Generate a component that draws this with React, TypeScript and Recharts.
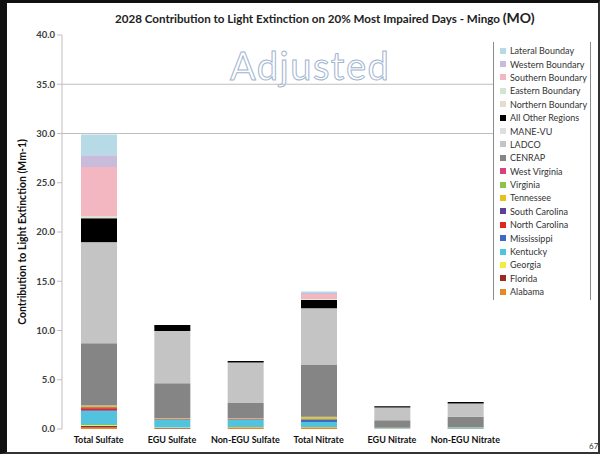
import { BarChart, Bar, XAxis, YAxis, Legend, ReferenceLine } from 'recharts';

const categories = ['Total Sulfate', 'EGU Sulfate', 'Non-EGU Sulfate', 'Total Nitrate', 'EGU Nitrate', 'Non-EGU Nitrate'];

// contributions (Mm-1), one value per category
const alabama = [0.15, 0.05, 0.1, 0.1, 0.02, 0.03];
const florida = [0.15, 0.05, 0.05, 0.05, 0.01, 0.02];
const georgia = [0.1, 0.05, 0.05, 0.05, 0.01, 0.01];
const kentucky = [1.4, 0.8, 0.75, 0.5, 0.05, 0.1];
const mississippi = [0.1, 0.02, 0.05, 0.3, 0.02, 0.02];
const northCarolina = [0.2, 0.03, 0.05, 0, 0, 0];
const southCarolina = [0.1, 0.02, 0, 0, 0, 0];
const tennessee = [0.15, 0.08, 0.05, 0.2, 0.02, 0.02];
const virginia = [0.03, 0, 0, 0.03, 0, 0];
const westVirginia = [0.02, 0, 0, 0.02, 0, 0];
const cenrap = [6.3, 3.55, 1.55, 5.25, 0.75, 1.05];
const ladco = [10.2, 5.3, 4.1, 5.75, 1.3, 1.35];
const maneVu = [0.05, 0, 0, 0, 0, 0];
const allOther = [2.45, 0.6, 0.15, 0.85, 0.12, 0.15];
const northern = [0.1, 0, 0, 0.05, 0, 0];
const eastern = [0.1, 0, 0, 0.05, 0, 0];
const southern = [5.0, 0, 0, 0.5, 0, 0];
const western = [1.2, 0, 0, 0.1, 0, 0];
const lateral = [2.1, 0, 0, 0.15, 0, 0];

const yTicks = [0, 5, 10, 15, 20, 25, 30, 35, 40];

// stacking order, bottom to top
const series = [
  { key: 'Alabama', values: alabama, color: '#e3892a' },
  { key: 'Florida', values: florida, color: '#9b2b1c' },
  { key: 'Georgia', values: georgia, color: '#f2ee3c' },
  { key: 'Kentucky', values: kentucky, color: '#52c3de' },
  { key: 'Mississippi', values: mississippi, color: '#3d6bc2' },
  { key: 'North Carolina', values: northCarolina, color: '#e0261e' },
  { key: 'South Carolina', values: southCarolina, color: '#5b3f98' },
  { key: 'Tennessee', values: tennessee, color: '#e9be22' },
  { key: 'Virginia', values: virginia, color: '#8cc24d' },
  { key: 'West Virginia', values: westVirginia, color: '#d8407e' },
  { key: 'CENRAP', values: cenrap, color: '#858585' },
  { key: 'LADCO', values: ladco, color: '#c4c4c4' },
  { key: 'MANE-VU', values: maneVu, color: '#dedede' },
  { key: 'All Other Regions', values: allOther, color: '#000000' },
  { key: 'Northern Boundary', values: northern, color: '#e6dccb' },
  { key: 'Eastern Boundary', values: eastern, color: '#cfe6cf' },
  { key: 'Southern Boundary', values: southern, color: '#f2b7c0' },
  { key: 'Western Boundary', values: western, color: '#c9bbdc' },
  { key: 'Lateral Bounday', values: lateral, color: '#b6dbe6' },
];

const data = categories.map((name, i) => {
  const row: Record<string, string | number> = { name };
  series.forEach(s => { row[s.key] = s.values[i]; });
  return row;
});

const FONT = 'Lato, "Open Sans", sans-serif';

function LegendBox() {
  return (
    <div style={{
      background: '#fff', borderLeft: '1px solid #8c8c8c', borderRight: '1px solid #8c8c8c',
      padding: '2px 0 4px 6px', height: 258, boxSizing: 'border-box',
    }}>
      {[...series].reverse().map(s => (
        <div key={s.key} style={{ display: 'flex', alignItems: 'center', height: 13.4, fontFamily: FONT, fontSize: 9, color: '#333' }}>
          <span style={{ display: 'inline-block', width: 6, height: 6, background: s.color, marginRight: 4 }} />
          {s.key}
        </div>
      ))}
    </div>
  );
}

export default function App() {
  return (
    <div style={{ position: 'absolute', left: 0, top: 0, width: 600, height: 454, background: '#fff', overflow: 'hidden' }}>
      <div style={{
        position: 'absolute', left: 115, top: 9, whiteSpace: 'nowrap',
        fontFamily: FONT, fontWeight: 700, fontSize: 11.6, color: '#222',
      }}>
        2028 Contribution to Light Extinction on 20% Most Impaired Days - Mingo <span style={{ fontSize: 14 }}>(MO)</span>
      </div>
      <div style={{
        position: 'absolute', left: 230, top: 42, fontFamily: FONT, fontSize: 38, color: '#fff',
        WebkitTextStroke: '1px #9fb4cf', letterSpacing: 1.5,
      }}>
        Adjusted
      </div>
      <BarChart width={600} height={454} data={data} barSize={36}
        margin={{ top: 35, right: 0, left: 0, bottom: 0 }}
        style={{ position: 'absolute', left: 0, top: 0 }}>
        <ReferenceLine y={35} stroke="#bfbfbf" />
        <ReferenceLine y={30} stroke="#bfbfbf" />
        <XAxis dataKey="name" height={25} axisLine={false} tickLine={false}
          tick={{ fill: '#111', fontSize: 9, fontWeight: 700, fontFamily: FONT }} interval={0} />
        <YAxis domain={[0, 40]} ticks={yTicks} width={62} tickSize={5} tickMargin={2}
          axisLine={{ stroke: '#bfbfbf' }} tickLine={{ stroke: '#bfbfbf' }}
          tickFormatter={(v: number) => v.toFixed(1)}
          tick={{ fill: '#404040', fontSize: 9.5, fontWeight: 700, fontFamily: FONT }}
          label={{ value: 'Contribution to Light Extinction (Mm-1)', angle: -90, position: 'insideLeft', offset: 22,
            style: { textAnchor: 'middle', fontFamily: FONT, fontWeight: 700, fontSize: 10.5, fill: '#111' } }} />
        <Legend verticalAlign="top" align="right" layout="vertical" content={<LegendBox />}
          wrapperStyle={{ position: 'absolute', left: 493, top: 42, width: 98 }} />
        {series.map(s => (
          <Bar key={s.key} dataKey={s.key} stackId="a" fill={s.color} isAnimationActive={false} />
        ))}
      </BarChart>
      <div style={{ position: 'absolute', left: 589, top: 441, fontFamily: FONT, fontSize: 8, color: '#333' }}>67</div>
      <div style={{
        position: 'absolute', left: 0, top: 0, width: 600, height: 454, boxSizing: 'border-box', pointerEvents: 'none',
        borderLeft: '7px solid #111', borderTop: '3px solid #111', borderRight: '2px solid #333', borderBottom: '2px solid #333',
      }} />
    </div>
  );
}
